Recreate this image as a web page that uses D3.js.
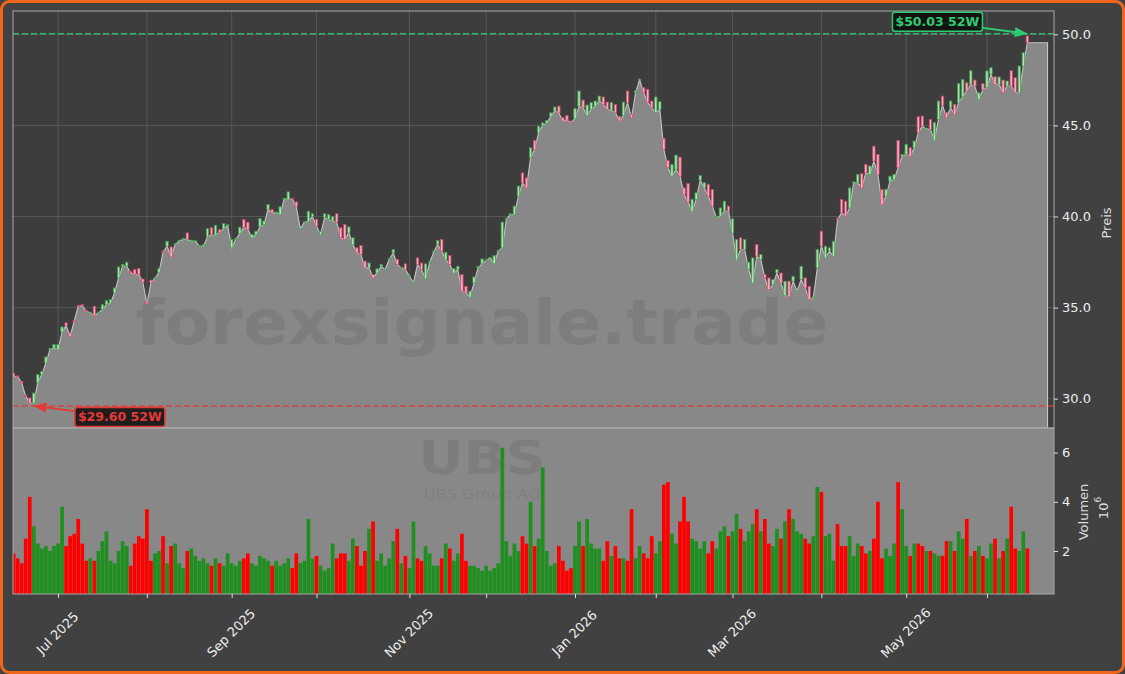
<!DOCTYPE html>
<html lang="de">
<head>
<meta charset="UTF-8">
<title>UBS Group AG - 52 Wochen</title>
<script src="https://d3js.org/d3.v7.min.js"></script>
<style>
  html, body { margin: 0; padding: 0; background: #414141; }
  body { width: 1125px; height: 674px; overflow: hidden; }
  svg { display: block; font-family: "DejaVu Sans", sans-serif; }
</style>
</head>
<body>
<svg id="chart" width="1125" height="674"></svg>
<script>
// daily candles, one entry per trading day (starting 2025-06-13)
const opens = [
  31.37,31.25,30.95,30.18,30.04,29.76,30.90,31.32,31.96,32.69,
  32.78,32.69,33.65,34.16,33.61,34.30,35.12,35.16,34.85,34.71,
  35.07,34.71,34.89,35.16,35.25,35.80,36.63,37.27,37.27,36.99,
  37.09,37.14,36.57,35.30,36.50,36.60,36.94,38.10,38.37,38.33,
  38.46,38.64,38.74,39.10,38.64,38.64,38.37,38.37,38.88,39.38,
  38.95,39.28,39.32,39.50,38.28,38.74,39.06,39.83,39.69,38.83,
  39.00,39.43,39.56,40.38,40.38,40.20,40.11,40.97,40.93,41.00,
  40.80,39.32,39.69,39.74,40.00,39.83,39.01,39.93,39.84,39.74,
  40.15,39.38,39.56,39.10,38.46,38.28,38.41,37.55,37.18,36.81,
  36.90,37.27,37.09,37.64,38.00,37.64,37.18,37.40,36.72,36.35,
  37.73,37.45,36.60,37.45,38.04,38.46,38.74,37.64,37.86,36.90,
  37.09,36.81,36.17,35.58,36.35,37.18,37.40,37.58,37.73,37.42,
  38.10,38.28,39.83,40.11,40.11,41.12,42.40,42.12,43.23,44.18,
  44.60,45.00,45.11,45.48,45.79,46.06,45.42,45.55,45.24,45.37,
  46.03,46.39,45.55,45.88,46.06,46.34,46.56,46.28,45.79,46.15,
  45.50,45.55,46.89,45.60,46.80,47.50,47.07,46.98,46.34,45.70,
  45.88,44.29,43.08,42.22,42.58,43.26,41.57,41.81,40.29,40.93,
  42.00,41.57,41.76,41.48,39.93,40.02,40.29,40.57,39.10,37.64,
  38.83,38.19,37.09,36.35,38.46,37.64,36.81,36.63,36.26,36.90,
  36.90,35.66,36.45,36.45,35.90,36.54,36.63,36.17,35.53,37.18,
  39.19,37.73,38.10,37.82,39.90,40.93,40.84,40.47,41.85,41.85,
  42.36,42.86,42.31,43.86,43.41,41.48,41.12,41.94,42.03,44.18,
  43.31,43.41,43.77,43.77,45.48,45.51,44.78,45.33,44.19,45.33,
  46.61,45.70,45.97,46.15,46.25,46.57,47.34,47.25,47.49,46.43,
  47.29,47.07,47.80,47.67,47.25,47.49,47.16,48.00,47.62,46.80,
  48.26,49.91
];
const closes = [
  31.22,31.22,30.86,30.13,29.76,30.31,31.32,31.50,32.29,32.75,
  32.97,32.97,33.94,34.01,33.42,34.25,35.07,35.10,34.80,34.75,
  34.56,34.75,35.16,35.38,35.44,36.08,37.23,37.36,37.49,36.90,
  36.81,36.81,36.39,35.20,36.35,36.63,37.14,38.04,38.64,37.78,
  38.50,38.70,38.80,38.74,38.70,38.68,38.40,38.45,39.34,39.00,
  39.52,39.14,39.61,39.55,38.74,38.80,39.41,39.40,39.30,39.01,
  39.19,39.89,39.75,40.66,40.20,40.25,40.53,41.00,41.35,40.97,
  40.53,39.35,39.72,40.29,40.15,39.47,39.19,40.15,40.10,40.00,
  39.69,38.83,38.74,39.43,38.83,38.00,37.91,37.18,37.45,36.63,
  37.13,37.36,37.12,37.70,38.19,37.36,37.20,37.09,36.75,36.40,
  37.36,37.09,37.40,37.50,38.10,38.68,38.10,38.04,37.36,37.14,
  37.27,35.90,35.80,35.90,36.68,37.25,37.67,37.62,37.75,37.86,
  38.15,39.69,39.90,40.15,40.57,41.67,41.85,41.57,43.77,43.68,
  44.96,45.14,45.27,45.69,46.01,45.69,45.24,45.29,45.15,45.92,
  46.89,45.97,46.12,46.25,46.34,46.61,46.15,45.88,46.25,45.70,
  45.24,46.28,46.25,45.42,46.89,47.53,46.80,46.25,45.97,46.56,
  46.30,43.68,42.67,42.86,43.37,42.22,41.21,40.79,40.93,41.30,
  42.25,41.85,41.12,40.57,40.00,40.47,40.84,40.29,39.87,38.74,
  38.19,38.74,37.49,37.73,37.82,37.91,36.63,35.99,36.54,37.09,
  36.35,36.45,35.62,36.72,35.95,37.27,36.08,35.44,35.60,38.19,
  38.37,38.37,38.28,38.64,39.83,40.20,40.02,41.57,41.90,42.31,
  41.57,42.40,42.77,43.04,42.31,40.66,41.48,42.21,42.31,42.67,
  43.40,43.96,43.31,44.14,44.60,44.96,44.85,44.78,45.15,46.34,
  46.10,45.42,46.34,45.60,47.29,47.53,46.89,48.00,47.16,46.79,
  46.98,47.99,48.17,47.25,47.66,46.80,47.44,47.16,46.80,48.26,
  48.99,49.54
];
// volume in millions
const volumes = [
  1.9,1.7,1.5,2.5,4.2,3.0,2.3,2.1,2.2,2.0,
  2.2,2.3,3.8,2.2,2.6,2.7,3.3,2.3,1.6,1.7,
  1.6,2.0,2.4,2.8,1.6,1.5,2.0,2.4,2.2,1.4,
  2.3,2.6,2.5,3.7,1.6,1.9,2.0,2.6,1.5,2.2,
  2.3,1.5,1.3,2.0,2.1,1.8,1.6,1.7,1.5,1.4,
  1.7,1.5,1.4,1.9,1.5,1.4,1.6,1.7,1.9,1.5,
  1.4,1.8,1.7,1.6,1.4,1.6,1.4,1.5,1.7,1.3,
  1.9,1.5,1.6,3.3,1.7,1.8,1.4,1.2,1.3,2.3,
  1.7,1.9,1.9,1.6,2.5,2.2,1.4,2.0,2.9,3.2,
  1.6,1.9,1.4,1.7,2.4,2.9,1.5,1.8,1.3,3.2,
  1.7,1.6,2.2,1.9,1.4,1.4,1.7,2.3,2.1,1.6,
  1.9,2.7,1.6,1.4,1.4,1.3,1.2,1.4,1.2,1.3,
  1.5,6.2,2.4,1.8,2.3,2.0,2.6,2.3,4.0,2.2,
  2.5,5.4,2.0,1.4,1.5,2.2,1.6,1.2,1.3,2.2,
  3.2,2.2,3.3,2.3,2.1,2.1,1.6,2.4,1.8,2.2,
  1.7,1.7,1.6,3.7,1.7,2.2,1.9,1.7,2.6,1.9,
  2.4,4.7,4.8,2.7,2.3,3.2,4.2,3.2,2.5,2.4,
  2.1,2.4,1.9,2.4,2.1,2.8,3.0,2.6,2.8,3.5,
  2.9,2.4,2.8,3.1,3.7,2.8,3.3,2.3,2.2,2.9,
  2.5,3.2,3.7,3.3,2.8,2.7,2.5,2.3,2.6,4.6,
  4.4,2.6,2.7,1.6,3.1,2.2,2.2,2.6,1.8,2.3,
  2.2,1.9,2.0,2.5,4.0,1.7,2.1,1.8,2.3,4.8,
  3.7,2.2,1.8,2.3,2.3,2.2,2.0,2.0,1.9,1.8,
  1.8,2.4,2.4,2.0,2.8,2.5,3.3,1.8,2.0,2.2,
  1.8,1.7,2.3,2.5,1.7,2.0,2.5,3.8,2.1,2.0,
  2.8,2.1
];

const startDate = "2025-06-13";
const holidays = ["2025-06-19","2025-07-04","2025-09-01","2025-11-27","2025-12-25",
                  "2026-01-01","2026-01-19","2026-02-16","2026-04-03","2026-05-25"];
const labelledMonths = ["Jul 2025","Sep 2025","Nov 2025","Jan 2026","Mar 2026","May 2026"];
const priceTicks = [30, 35, 40, 45, 50];
const volumeTicks = [2, 4, 6];

const high52 = { value: 50.03, index: 251 };
const low52 = { value: 29.60, index: 5 };

// trading calendar
const parse = d3.timeParse("%Y-%m-%d");
const fmt = d3.timeFormat("%Y-%m-%d");
const dates = [];
let day = parse(startDate);
while (dates.length < closes.length) {
  const wd = day.getDay();
  if (wd !== 0 && wd !== 6 && !holidays.includes(fmt(day))) dates.push(day);
  day = d3.timeDay.offset(day, 1);
}
const monthTicks = [];
dates.forEach((d, i) => {
  if (i > 0 && d.getMonth() !== dates[i - 1].getMonth()) monthTicks.push(i);
});
const monthFmt = d3.timeFormat("%b %Y");

// layout
const L = 13, R = 1054, PT = 11, PB = 428, VB = 594;
const n = closes.length;

const x = d3.scaleLinear().domain([-0.15, 257.6]).range([L, R]);
const yP = d3.scaleLinear().domain([28.39, 51.28]).range([PB, PT]);
const yV = d3.scaleLinear().domain([0.25, 7.0]).range([VB, PB]);
const step = x(1) - x(0);

const svg = d3.select("#chart");
const defs = svg.append("defs");
defs.append("clipPath").attr("id", "clipP")
  .append("rect").attr("x", L).attr("y", PT).attr("width", R - L).attr("height", PB - PT);
defs.append("clipPath").attr("id", "clipV")
  .append("rect").attr("x", L).attr("y", PB).attr("width", R - L).attr("height", VB - PB);

[["arrG", "#2ecc71"], ["arrR", "#e53935"]].forEach(([id, c]) => {
  defs.append("marker").attr("id", id)
    .attr("viewBox", "0 0 10 10").attr("refX", 10).attr("refY", 5)
    .attr("markerWidth", 7).attr("markerHeight", 7).attr("orient", "auto")
    .append("path").attr("d", "M0,1 L10,5 L0,9 Z").attr("fill", c);
});

// ---------- price panel ----------
svg.append("rect").attr("x", L).attr("y", PT).attr("width", R - L).attr("height", PB - PT)
  .attr("fill", "#3d3d3d");

const gP = svg.append("g").attr("clip-path", "url(#clipP)");

gP.selectAll(".vgrid").data(monthTicks).enter().append("line")
  .attr("x1", d => x(d)).attr("x2", d => x(d)).attr("y1", PT).attr("y2", PB)
  .attr("stroke", "#5e5e5e").attr("stroke-width", 0.8);
gP.selectAll(".hgrid").data(priceTicks).enter().append("line")
  .attr("x1", L).attr("x2", R).attr("y1", d => yP(d)).attr("y2", d => yP(d))
  .attr("stroke", "#5e5e5e").attr("stroke-width", 0.8);

// filled area under the lower body edge, held flat a few days past the last candle
const bodyLow = closes.map((c, i) => Math.min(c, opens[i]));
const areaPts = bodyLow.map((v, i) => [i, v]);
areaPts.unshift([-0.3, bodyLow[0]]);
areaPts.push([n - 1 + 5, bodyLow[n - 1]]);

gP.append("path").datum(areaPts)
  .attr("d", d3.area().x(d => x(d[0])).y0(PB).y1(d => yP(d[1])))
  .attr("fill", "#888888").attr("stroke", "#c4c4c4").attr("stroke-width", 1.1);

gP.append("text").text("forexsignale.trade")
  .attr("x", 482).attr("y", 344).attr("text-anchor", "middle")
  .attr("font-size", 62).attr("font-weight", "bold")
  .attr("textLength", 693).attr("lengthAdjust", "spacingAndGlyphs")
  .attr("fill", "rgba(0,0,0,0.08)");

// 52W lines
gP.append("line").attr("x1", L).attr("x2", R)
  .attr("y1", yP(high52.value)).attr("y2", yP(high52.value))
  .attr("stroke", "#2ecc71").attr("stroke-width", 1.5).attr("stroke-dasharray", "6,3")
  .attr("opacity", 0.85);
gP.append("line").attr("x1", L).attr("x2", R)
  .attr("y1", yP(low52.value)).attr("y2", yP(low52.value))
  .attr("stroke", "#e53935").attr("stroke-width", 1.5).attr("stroke-dasharray", "6,3")
  .attr("opacity", 0.85);

// candles
const cw = step * 0.6;
gP.selectAll(".candle").data(d3.range(n)).enter().append("rect")
  .attr("x", i => x(i) - cw / 2)
  .attr("y", i => yP(Math.max(opens[i], closes[i])))
  .attr("width", cw)
  .attr("height", i => Math.max(1, yP(Math.min(opens[i], closes[i])) - yP(Math.max(opens[i], closes[i]))))
  .attr("fill", i => closes[i] >= opens[i] ? "#bdeebd" : "#f9c0cf")
  .attr("stroke", i => closes[i] >= opens[i] ? "#3aa54a" : "#e0406a")
  .attr("stroke-width", 0.8)
  .attr("opacity", 0.9);

// ---------- volume panel ----------
svg.append("rect").attr("x", L).attr("y", PB).attr("width", R - L).attr("height", VB - PB)
  .attr("fill", "#888888");
const gV = svg.append("g").attr("clip-path", "url(#clipV)");

gV.append("text").text("UBS")
  .attr("x", 482).attr("y", 474).attr("text-anchor", "middle")
  .attr("font-size", 47).attr("font-weight", "bold")
  .attr("textLength", 127).attr("lengthAdjust", "spacingAndGlyphs")
  .attr("fill", "rgba(0,0,0,0.08)");
gV.append("text").text("UBS Group AG")
  .attr("x", 482).attr("y", 499).attr("text-anchor", "middle")
  .attr("font-size", 14)
  .attr("textLength", 117).attr("lengthAdjust", "spacingAndGlyphs")
  .attr("fill", "rgba(0,0,0,0.08)");

const bw = step * 0.92;
gV.selectAll(".vol").data(d3.range(n)).enter().append("rect")
  .attr("x", i => x(i) - bw / 2)
  .attr("y", i => yV(volumes[i]))
  .attr("width", bw)
  .attr("height", i => VB - yV(volumes[i]))
  .attr("fill", i => closes[i] >= opens[i] ? "#1f8f1f" : "#ff0000");

// ---------- frames & axes ----------
svg.append("rect").attr("x", L).attr("y", PT).attr("width", R - L).attr("height", PB - PT)
  .attr("fill", "none").attr("stroke", "#a8a8a8").attr("stroke-width", 1);
svg.append("rect").attr("x", L).attr("y", PB).attr("width", R - L).attr("height", VB - PB)
  .attr("fill", "none").attr("stroke", "#a8a8a8").attr("stroke-width", 1);

function styleAxis(g) {
  g.select(".domain").remove();
  g.selectAll(".tick line").attr("stroke", "#dddddd");
  g.selectAll(".tick text").attr("fill", "#eeeeee").attr("font-size", 13)
    .attr("font-family", "DejaVu Sans");
}

svg.append("g").attr("transform", `translate(${R},0)`)
  .call(d3.axisRight(yP).tickValues(priceTicks).tickFormat(d3.format(".1f")).tickSize(4).tickPadding(4))
  .call(styleAxis);
svg.append("g").attr("transform", `translate(${R},0)`)
  .call(d3.axisRight(yV).tickValues(volumeTicks).tickFormat(d3.format("d")).tickSize(4).tickPadding(4))
  .call(styleAxis);

const xAxis = svg.append("g").attr("transform", `translate(0,${VB})`)
  .call(d3.axisBottom(x).tickValues(monthTicks)
    .tickFormat(i => labelledMonths.includes(monthFmt(dates[i])) ? monthFmt(dates[i]) : "")
    .tickSize(4))
  .call(styleAxis);
xAxis.selectAll(".tick text")
  .attr("y", 0).attr("dy", null)
  .attr("text-anchor", "middle").attr("dominant-baseline", "central")
  .attr("transform", "translate(-1,39) rotate(-45)");

svg.append("text").text("Preis")
  .attr("transform", "translate(1106,223) rotate(-90)")
  .attr("text-anchor", "middle").attr("dominant-baseline", "central")
  .attr("font-size", 13).attr("fill", "#dddddd");
svg.append("text").text("Volumen")
  .attr("transform", "translate(1083,512) rotate(-90)")
  .attr("text-anchor", "middle").attr("dominant-baseline", "central")
  .attr("font-size", 13).attr("fill", "#dddddd");
const off = svg.append("text")
  .attr("transform", "translate(1103,508) rotate(-90)")
  .attr("text-anchor", "middle").attr("dominant-baseline", "central")
  .attr("font-size", 13).attr("fill", "#dddddd");
off.append("tspan").text("10");
off.append("tspan").text("6").attr("font-size", 9).attr("dy", -5);

// ---------- 52W annotations ----------
function annotate(pt, color, marker, dx, dy) {
  const tx = x(pt.index), ty = yP(pt.value);
  const cx = tx + dx, cy = ty + dy;
  const g = svg.append("g");
  g.append("line").attr("x1", cx).attr("y1", cy).attr("x2", tx).attr("y2", ty)
    .attr("stroke", color).attr("stroke-width", 1.8).attr("marker-end", `url(#${marker})`);
  const label = `$${pt.value.toFixed(2)} 52W`;
  const t = g.append("text").text(label)
    .attr("x", cx).attr("y", cy).attr("text-anchor", "middle").attr("dominant-baseline", "central")
    .attr("font-size", 12.5).attr("font-weight", "bold").attr("fill", color);
  const bb = t.node().getBBox();
  g.insert("rect", "text")
    .attr("x", bb.x - 3).attr("y", cy - 9.5).attr("width", bb.width + 6).attr("height", 19)
    .attr("rx", 2.5).attr("fill", "rgba(12,12,12,0.85)")
    .attr("stroke", color).attr("stroke-width", 1.5);
}
annotate(high52, "#2ecc71", "arrG", -90, -12);
annotate(low52, "#e53935", "arrR", 86, 11);

// outer frame
svg.append("rect").attr("x", 1.5).attr("y", 1.5).attr("width", 1122).attr("height", 671)
  .attr("rx", 8).attr("fill", "none").attr("stroke", "#f0661c").attr("stroke-width", 3);
</script>
</body>
</html>
